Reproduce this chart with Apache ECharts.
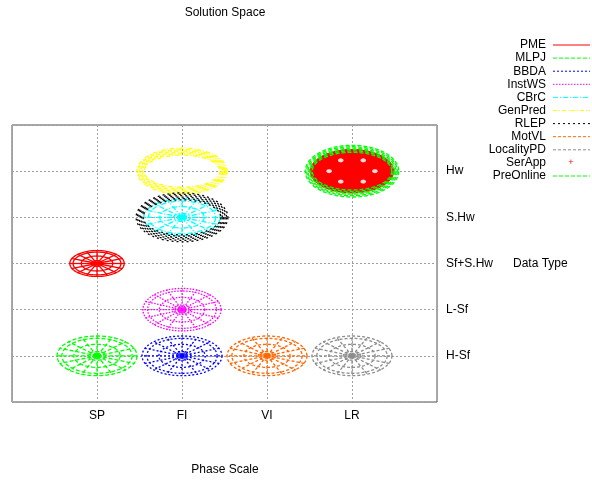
<!DOCTYPE html>
<html>
<head>
<meta charset="utf-8">
<script src="https://cdn.jsdelivr.net/npm/echarts@6/dist/echarts.min.js"></script>
<style>
  html, body { margin: 0; padding: 0; background: #fff; }
  #chart { width: 592px; height: 482px; }
</style>
</head>
<body>
<div id="chart"></div>
<script>
// Axis categories
const phaseLabels = ['SP', 'FI', 'VI', 'LR'];
const dataTypeLabels = ['H-Sf', 'L-Sf', 'Sf+S.Hw', 'S.Hw', 'Hw'];

// Methods, their position (phase index, data type index) and spread in axis units
const methods = ['PME', 'MLPJ', 'BBDA', 'InstWS', 'CBrC', 'GenPred', 'RLEP', 'MotVL', 'LocalityPD', 'SerApp', 'PreOnline'];
const methodPhase    = [1, 1, 2, 2, 2, 2, 2, 3, 4, 4, 4];
const methodDataType = [3, 1, 1, 2, 4, 5, 4, 1, 1, 5, 5];
const spreadX = [0.32, 0.47, 0.47, 0.46, 0.45, 0.53, 0.54, 0.47, 0.47, 0.49, 0.55];
const spreadY = [0.28, 0.43, 0.43, 0.46, 0.40, 0.50, 0.53, 0.43, 0.43, 0.47, 0.56];

// Drawing style of every method
const methodStyle = {
  PME:        { color: '#ff0000', dash: null,         kind: 'wheel' },
  MLPJ:       { color: '#00ff00', dash: [4, 2],       kind: 'wheel' },
  BBDA:       { color: '#0000ff', dash: [2, 2],       kind: 'wheel' },
  InstWS:     { color: '#ff00ff', dash: [1.5, 1.5],   kind: 'wheel' },
  CBrC:       { color: '#00ffff', dash: [5, 2, 1, 2], kind: 'wheel' },
  GenPred:    { color: '#ffff00', dash: [4, 2, 1, 2], kind: 'band', band: 7 },
  RLEP:       { color: '#000000', dash: [2, 3],       kind: 'band', band: 7 },
  MotVL:      { color: '#ff6600', dash: [3, 2],       kind: 'wheel' },
  LocalityPD: { color: '#8c8c8c', dash: [3, 2],       kind: 'wheel' },
  SerApp:     { color: '#ff0000', dash: null,         kind: 'filled' },
  PreOnline:  { color: '#00ff00', dash: [4, 2],       kind: 'band', band: 7 }
};

function ellipsePoints(cx, cy, rx, ry, n) {
  const pts = [];
  for (let i = 0; i <= n; i++) {
    const a = 2 * Math.PI * i / n;
    pts.push([cx + rx * Math.cos(a), cy + ry * Math.sin(a)]);
  }
  return pts;
}

function renderEllipse(params, api) {
  const name = methods[params.seriesIndex];
  const st = methodStyle[name];
  const c = api.coord([api.value(0), api.value(1)]);
  const sz = api.size([api.value(2), api.value(3)]);
  const rx = sz[0], ry = sz[1];
  const stroke = { stroke: st.color, fill: 'none', lineWidth: 1.3, lineDash: st.dash };
  const children = [];
  if (st.kind === 'wheel') {
    [1, 0.88, 0.58, 0.22].forEach(function (f) {
      children.push({ type: 'polyline', shape: { points: ellipsePoints(c[0], c[1], rx * f, ry * f, 90) }, style: stroke });
    });
    for (let k = 0; k < 16; k++) {
      const a = k * Math.PI / 8;
      children.push({
        type: 'line',
        shape: { x1: c[0], y1: c[1], x2: c[0] + rx * 1.02 * Math.cos(a), y2: c[1] + ry * 1.02 * Math.sin(a) },
        style: stroke
      });
    }
    children.push({
      type: 'polygon',
      shape: { points: ellipsePoints(c[0], c[1], rx * 0.12, ry * 0.16, 30) },
      style: { fill: st.color, stroke: 'none', opacity: 0.8 }
    });
  } else if (st.kind === 'band') {
    for (let k = 0; k <= st.band; k += 1.4) {
      children.push({ type: 'polyline', shape: { points: ellipsePoints(c[0], c[1], rx - k, ry - k, 90) }, style: stroke });
    }
  } else {
    children.push({
      type: 'polygon',
      shape: { points: ellipsePoints(c[0], c[1], rx, ry, 90) },
      style: { fill: st.color, stroke: st.color, lineWidth: 1 }
    });
    // gaps between the packed markers
    [[0.55, 0], [-0.55, 0], [0.27, -0.5], [-0.27, -0.5], [0.27, 0.48], [-0.27, 0.48]].forEach(function (p) {
      children.push({
        type: 'polygon',
        shape: { points: ellipsePoints(c[0] + rx * p[0], c[1] + ry * p[1], 2.8, 2, 20) },
        style: { fill: '#ffffff', stroke: 'none', opacity: 0.85 }
      });
    });
  }
  return { type: 'group', children: children };
}

const series = methods.map(function (name, i) {
  return {
    name: name,
    type: 'custom',
    coordinateSystem: 'cartesian2d',
    renderItem: renderEllipse,
    data: [[methodPhase[i], methodDataType[i], spreadX[i], spreadY[i]]],
    z: 2 + i
  };
});

// Key on the upper right
const legendGraphics = [];
methods.forEach(function (name, i) {
  const st = methodStyle[name];
  const y = 45 + 13.1 * i;
  legendGraphics.push({
    type: 'text', x: 546, y: y,
    style: { text: name, fill: '#000', font: '12px "Liberation Sans", Arial, sans-serif', textAlign: 'right', textVerticalAlign: 'middle' }
  });
  if (st.kind === 'filled') {
    legendGraphics.push({
      type: 'text', x: 571, y: y,
      style: { text: '+', fill: st.color, font: '9px "Liberation Sans", Arial, sans-serif', textAlign: 'center', textVerticalAlign: 'middle' }
    });
  } else {
    legendGraphics.push({
      type: 'line',
      shape: { x1: 553, y1: y, x2: 590, y2: y },
      style: { stroke: st.color, lineWidth: 1, lineDash: st.dash }
    });
  }
});

const font = '"Liberation Sans", Arial, sans-serif';
const chart = echarts.init(document.getElementById('chart'), null, { renderer: 'canvas' });
chart.setOption({
  animation: false,
  backgroundColor: '#ffffff',
  grid: { left: 12, top: 125, width: 425, height: 277, show: true, borderColor: '#505050', borderWidth: 1, backgroundColor: 'transparent' },
  xAxis: {
    type: 'value', min: 0, max: 5, interval: 1,
    axisLine: { show: false },
    axisTick: { show: false },
    axisLabel: { color: '#000', fontSize: 12, fontFamily: font, margin: 8, formatter: function (v) { return phaseLabels[v - 1] || ''; } },
    splitLine: { show: true, lineStyle: { color: '#a0a0a0', type: [2, 2] } }
  },
  yAxis: {
    type: 'value', min: 0, max: 6, interval: 1, position: 'right',
    axisLine: { show: false },
    axisTick: { show: false },
    axisLabel: { color: '#000', fontSize: 12, fontFamily: font, margin: 9, formatter: function (v) { return dataTypeLabels[v - 1] || ''; } },
    splitLine: { show: true, lineStyle: { color: '#a0a0a0', type: [2, 2] } }
  },
  graphic: [
    { type: 'text', x: 225, y: 13, style: { text: 'Solution Space', fill: '#000', font: '12px ' + font, textAlign: 'center', textVerticalAlign: 'middle' } },
    { type: 'text', x: 225, y: 470, style: { text: 'Phase Scale', fill: '#000', font: '12px ' + font, textAlign: 'center', textVerticalAlign: 'middle' } },
    { type: 'text', x: 513, y: 264, style: { text: 'Data Type', fill: '#000', font: '12px ' + font, textAlign: 'left', textVerticalAlign: 'middle' } }
  ].concat(legendGraphics),
  series: series
});
</script>
</body>
</html>
